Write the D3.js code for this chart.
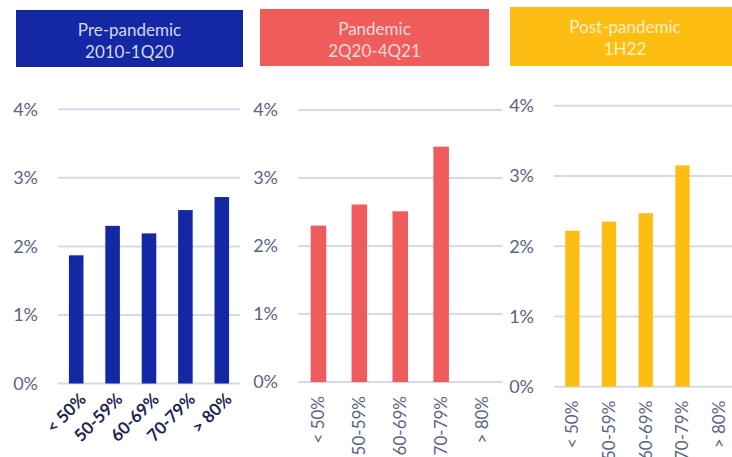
<!DOCTYPE html>
<html>
<head>
<meta charset="utf-8">
<script src="https://cdn.jsdelivr.net/npm/d3@7"></script>
<style>
  body { margin: 0; background: #fff; }
  svg text { font-family: Lato, "Open Sans", sans-serif; }
</style>
</head>
<body>
<div id="chart"></div>
<script>
var w = 732, h = 457;

// data
var categories = ["< 50%", "50-59%", "60-69%", "70-79%", "> 80%"];
var periods = ["Pre-pandemic", "Pandemic", "Post-pandemic"];
var ranges = ["2010-1Q20", "2Q20-4Q21", "1H22"];
var preValues = [1.87, 2.30, 2.19, 2.53, 2.72];
var pandemicValues = [2.30, 2.61, 2.51, 3.46, null];
var postValues = [2.22, 2.35, 2.47, 3.15, null];
var yTicks = [0, 1, 2, 3, 4];

// layout of the three panels
var panels = [
  { title: periods[0], sub: ranges[0], values: preValues, color: "#1428A6", textColor: "#d3d7f2",
    box: [16, 10, 227, 57], x0: 58, x1: 240, y0: 383.5, y4: 109.3, pad: 0.6, bold: true },
  { title: periods[1], sub: ranges[1], values: pandemicValues, color: "#F05B5B", textColor: "#fcdada",
    box: [260, 9, 229, 57], x0: 298, x1: 502.5, y0: 382, y4: 110, pad: 0.62, bold: false },
  { title: periods[2], sub: ranges[2], values: postValues, color: "#FDBD13", textColor: "#fff0c6",
    box: [510, 7, 230, 59], x0: 554, x1: 737.5, y0: 386.7, y4: 105.7, pad: 0.61, bold: false }
];

var svg = d3.select("#chart").append("svg")
    .attr("width", w).attr("height", h);

panels.forEach(function (p) {
  var g = svg.append("g");

  // header box
  g.append("rect")
    .attr("x", p.box[0]).attr("y", p.box[1])
    .attr("width", p.box[2]).attr("height", p.box[3])
    .attr("fill", p.color);
  var cx = p.box[0] + p.box[2] / 2;
  g.append("text").text(p.title)
    .attr("x", cx).attr("y", p.box[1] + 26)
    .attr("text-anchor", "middle").attr("font-size", "17px")
    .attr("fill", p.textColor);
  g.append("text").text(p.sub)
    .attr("x", cx).attr("y", p.box[1] + 48)
    .attr("text-anchor", "middle").attr("font-size", "17px")
    .attr("fill", p.textColor);

  var x = d3.scaleBand().domain(categories)
    .range([p.x0, p.x1]).paddingInner(p.pad).paddingOuter(p.pad / 2);
  var y = d3.scaleLinear().domain([0, 4]).range([p.y0, p.y4]);

  // gridlines + y labels
  g.selectAll("line.grid").data(yTicks).enter().append("line")
    .attr("class", "grid")
    .attr("x1", p.x0).attr("x2", p.x1)
    .attr("y1", d => y(d)).attr("y2", d => y(d))
    .attr("stroke", "#d3daf0").attr("stroke-width", 2);
  g.selectAll("text.ylab").data(yTicks).enter().append("text")
    .attr("class", "ylab")
    .text(d => d + "%")
    .attr("x", p.x0 - 20).attr("y", d => y(d))
    .attr("dy", "0.36em").attr("text-anchor", "end")
    .attr("font-size", "18px")
    .attr("fill", "#5a6384");

  // bars
  var data = categories.map((c, i) => ({ cat: c, v: p.values[i] }))
    .filter(d => d.v != null);
  g.selectAll("rect.bar").data(data).enter().append("rect")
    .attr("class", "bar")
    .attr("x", d => x(d.cat)).attr("width", x.bandwidth())
    .attr("y", d => y(d.v)).attr("height", d => y(0) - y(d.v))
    .attr("fill", p.color);

  // x labels
  g.selectAll("text.xlab").data(categories).enter().append("text")
    .attr("class", "xlab")
    .text(d => d)
    .attr("text-anchor", "end")
    .attr("font-size", "17px")
    .attr("font-weight", p.bold ? 700 : 400)
    .attr("fill", p.bold ? "#1b2452" : "#5a6384")
    .attr("transform", function (d) {
      var c = x(d) + x.bandwidth() / 2;
      if (p.bold) return "translate(" + (c + 11) + "," + (p.y0 + 17) + ") rotate(-45)";
      return "translate(" + (c + 6) + "," + (p.y0 + 14) + ") rotate(-90)";
    });
});
</script>
</body>
</html>
